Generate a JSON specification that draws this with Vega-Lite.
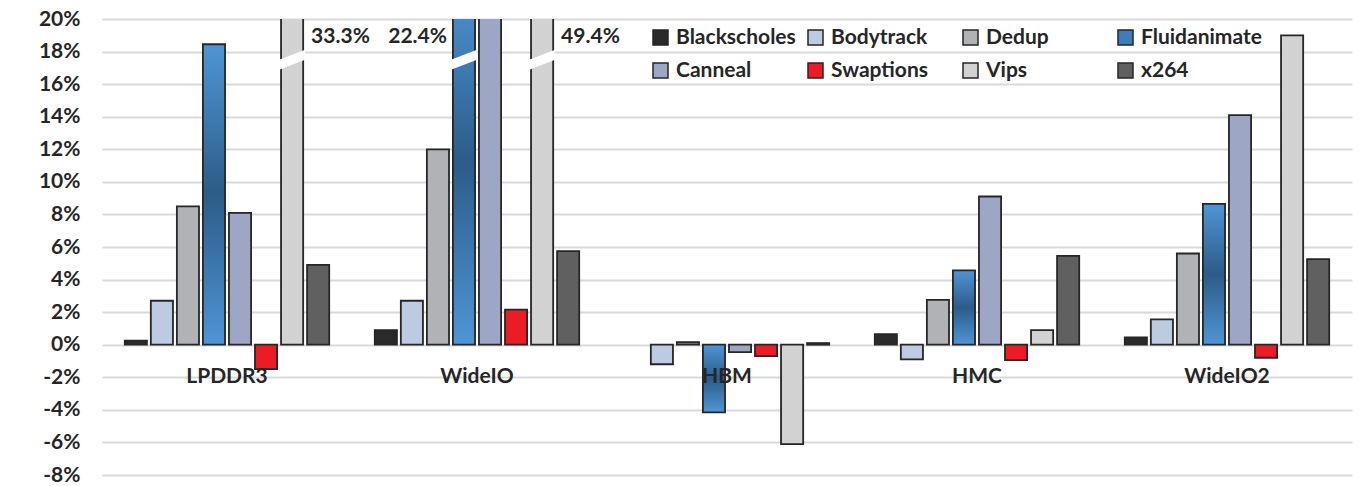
{
  "$schema": "https://vega.github.io/schema/vega-lite/v6.json",
  "width": 1250,
  "height": 456,
  "autosize": {"type": "none"},
  "padding": {"left": 102, "top": 19, "right": 10, "bottom": 11},
  "background": "white",
  "config": {"view": {"stroke": null}, "font": "Lato",
    "axisX": {"orient": "bottom", "offset": -130, "title": null, "domain": false, "ticks": false, "grid": false,
      "labelPadding": 20, "labelAngle": 0, "labelFontSize": 21, "labelFontWeight": "bold", "labelColor": "#262626"},
    "axisY": {"title": null, "labelOverlap": false, "domain": false, "ticks": false, "labelPadding": 22,
      "labelFontSize": 21, "labelFontWeight": "bold", "labelColor": "#262626", "gridColor": "#d9d9d9", "gridWidth": 2}},
  "data": {"values": [
    {"mem": "LPDDR3", "bench": "Blackscholes", "value": 0.25},
    {"mem": "LPDDR3", "bench": "Bodytrack", "value": 2.7},
    {"mem": "LPDDR3", "bench": "Dedup", "value": 8.5},
    {"mem": "LPDDR3", "bench": "Fluidanimate", "value": 18.45},
    {"mem": "LPDDR3", "bench": "Canneal", "value": 8.1},
    {"mem": "LPDDR3", "bench": "Swaptions", "value": -1.5},
    {"mem": "LPDDR3", "bench": "Vips", "value": 33.3, "label": "33.3%"},
    {"mem": "LPDDR3", "bench": "x264", "value": 4.9},
    {"mem": "WideIO", "bench": "Blackscholes", "value": 0.9},
    {"mem": "WideIO", "bench": "Bodytrack", "value": 2.7},
    {"mem": "WideIO", "bench": "Dedup", "value": 12.0},
    {"mem": "WideIO", "bench": "Fluidanimate", "value": 22.4, "label": "22.4%"},
    {"mem": "WideIO", "bench": "Canneal", "value": 20.5},
    {"mem": "WideIO", "bench": "Swaptions", "value": 2.15},
    {"mem": "WideIO", "bench": "Vips", "value": 49.4, "label": "49.4%"},
    {"mem": "WideIO", "bench": "x264", "value": 5.75},
    {"mem": "HBM", "bench": "Bodytrack", "value": -1.2},
    {"mem": "HBM", "bench": "Dedup", "value": 0.15},
    {"mem": "HBM", "bench": "Fluidanimate", "value": -4.15},
    {"mem": "HBM", "bench": "Canneal", "value": -0.45},
    {"mem": "HBM", "bench": "Swaptions", "value": -0.7},
    {"mem": "HBM", "bench": "Vips", "value": -6.1},
    {"mem": "HBM", "bench": "x264", "value": 0.1},
    {"mem": "HMC", "bench": "Blackscholes", "value": 0.65},
    {"mem": "HMC", "bench": "Bodytrack", "value": -0.9},
    {"mem": "HMC", "bench": "Dedup", "value": 2.75},
    {"mem": "HMC", "bench": "Fluidanimate", "value": 4.56},
    {"mem": "HMC", "bench": "Canneal", "value": 9.1},
    {"mem": "HMC", "bench": "Swaptions", "value": -0.95},
    {"mem": "HMC", "bench": "Vips", "value": 0.9},
    {"mem": "HMC", "bench": "x264", "value": 5.45},
    {"mem": "WideIO2", "bench": "Blackscholes", "value": 0.45},
    {"mem": "WideIO2", "bench": "Bodytrack", "value": 1.55},
    {"mem": "WideIO2", "bench": "Dedup", "value": 5.6},
    {"mem": "WideIO2", "bench": "Fluidanimate", "value": 8.65},
    {"mem": "WideIO2", "bench": "Canneal", "value": 14.1},
    {"mem": "WideIO2", "bench": "Swaptions", "value": -0.8},
    {"mem": "WideIO2", "bench": "Vips", "value": 19.0},
    {"mem": "WideIO2", "bench": "x264", "value": 5.25}
  ]},
  "layer": [
    {
      "mark": {"type": "bar", "clip": true, "stroke": "#262626", "strokeWidth": 1.8},
      "encoding": {
        "x": {"field": "mem", "type": "nominal", "sort": ["LPDDR3", "WideIO", "HBM", "HMC", "WideIO2"],
          "scale": {"paddingInner": 0, "paddingOuter": 0}, "axis": {"zindex": 1}},
        "xOffset": {"field": "bench", "type": "nominal",
          "sort": ["Blackscholes", "Bodytrack", "Dedup", "Fluidanimate", "Canneal", "Swaptions", "Vips", "x264"],
          "scale": {"paddingInner": 0.15, "paddingOuter": 0.875}},
        "y": {"field": "value", "type": "quantitative",
          "scale": {"domain": [-8, 20], "nice": false},
          "axis": {"values": [-8, -6, -4, -2, 0, 2, 4, 6, 8, 10, 12, 14, 16, 18, 20], "labelExpr": "datum.value + '%'"}},
        "fill": {
          "condition": {"test": "datum.bench === 'Fluidanimate'",
            "value": {"gradient": "linear", "x1": 0, "y1": 0, "x2": 0, "y2": 1,
              "stops": [{"offset": 0, "color": "#4f95d6"}, {"offset": 0.5, "color": "#2c5c88"}, {"offset": 1, "color": "#4f95d6"}]}},
          "field": "bench", "type": "nominal",
          "sort": ["Blackscholes", "Bodytrack", "Dedup", "Fluidanimate", "Canneal", "Swaptions", "Vips", "x264"],
          "scale": {"domain": ["Blackscholes", "Bodytrack", "Dedup", "Fluidanimate", "Canneal", "Swaptions", "Vips", "x264"],
            "range": ["#2a2a2a", "#bccbe2", "#b1b2b6", "#3b7dbf", "#9ea6c6", "#ec1c24", "#d2d2d2", "#606060"]},
          "legend": {"orient": "none", "legendX": 548, "legendY": 8, "direction": "horizontal", "columns": 4,
            "title": null, "symbolType": "square", "symbolSize": 225, "symbolStrokeColor": "#262626",
            "symbolStrokeWidth": 1.5, "labelFontSize": 21, "labelFontWeight": "bold", "labelColor": "#262626",
            "labelLimit": 300, "labelOffset": 5, "columnPadding": 8, "rowPadding": 11, "gridAlign": "all"}
        }
      }
    },
    {
      "transform": [{"filter": "datum.label != null"}],
      "mark": {"type": "point", "shape": "M-1,0 L1,-0.77 L1,0 L-1,0.77 Z", "filled": true, "fill": "white", "color": "white", "strokeWidth": 0, "size": 676, "opacity": 1},
      "encoding": {
        "x": {"field": "mem", "type": "nominal", "sort": ["LPDDR3", "WideIO", "HBM", "HMC", "WideIO2"], "axis": {"zindex": 1}},
        "xOffset": {"field": "bench", "type": "nominal", "sort": ["Blackscholes", "Bodytrack", "Dedup", "Fluidanimate", "Canneal", "Swaptions", "Vips", "x264"]},
        "y": {"datum": 17.5, "type": "quantitative",
          "axis": {"values": [-8, -6, -4, -2, 0, 2, 4, 6, 8, 10, 12, 14, 16, 18, 20], "labelExpr": "datum.value + '%'"}}
      }
    },
    {
      "transform": [{"filter": "datum.label != null && datum.bench === 'Vips'"}],
      "mark": {"type": "text", "align": "left", "dx": 19, "fontSize": 21, "fontWeight": "bold", "color": "#262626"},
      "encoding": {
        "x": {"field": "mem", "type": "nominal", "sort": ["LPDDR3", "WideIO", "HBM", "HMC", "WideIO2"], "axis": {"zindex": 1}},
        "xOffset": {"field": "bench", "type": "nominal", "sort": ["Blackscholes", "Bodytrack", "Dedup", "Fluidanimate", "Canneal", "Swaptions", "Vips", "x264"]},
        "y": {"datum": 18.9, "type": "quantitative",
          "axis": {"values": [-8, -6, -4, -2, 0, 2, 4, 6, 8, 10, 12, 14, 16, 18, 20], "labelExpr": "datum.value + '%'"}},
        "text": {"field": "label"}
      }
    },
    {
      "transform": [{"filter": "datum.label != null && datum.bench === 'Fluidanimate'"}],
      "mark": {"type": "text", "align": "right", "dx": -17, "fontSize": 21, "fontWeight": "bold", "color": "#262626"},
      "encoding": {
        "x": {"field": "mem", "type": "nominal", "sort": ["LPDDR3", "WideIO", "HBM", "HMC", "WideIO2"], "axis": {"zindex": 1}},
        "xOffset": {"field": "bench", "type": "nominal", "sort": ["Blackscholes", "Bodytrack", "Dedup", "Fluidanimate", "Canneal", "Swaptions", "Vips", "x264"]},
        "y": {"datum": 18.9, "type": "quantitative",
          "axis": {"values": [-8, -6, -4, -2, 0, 2, 4, 6, 8, 10, 12, 14, 16, 18, 20], "labelExpr": "datum.value + '%'"}},
        "text": {"field": "label"}
      }
    }
  ]
}
